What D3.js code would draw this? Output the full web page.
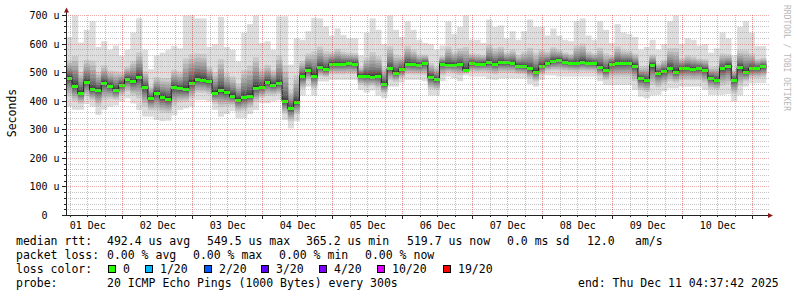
<!DOCTYPE html>
<html>
<head>
<meta charset="utf-8">
<script src="https://cdn.jsdelivr.net/npm/d3@7"></script>
<style>
	body { margin: 0; background: #fff; }
	svg { display: block; }
	text { font-family: "DejaVu Sans Mono", monospace; fill: #000; }
</style>
</head>
<body>
<svg id="chart" width="797" height="297"></svg>
<script>
// medians per 2 hour step (microseconds), Dec 01 04:37:42 -> Dec 11 04:37:42
var median = [
	483,455,430,468,442,440,465,455,440,458,
	478,470,485,450,410,430,415,408,450,445,
	442,465,478,475,470,430,440,432,420,406,
	415,420,448,450,467,458,463,400,375,398,
	488,510,490,520,512,531,531,531,533,531,
	490,490,486,490,460,515,500,512,531,529,
	527,534,485,477,531,527,528,530,510,533,
	530,532,536,530,536,536,534,524,522,515,
	504,524,534,541,545,539,535,533,538,535,
	534,520,508,531,534,534,535,525,480,475,
	527,500,505,517,503,515,517,514,516,510,
	482,475,515,525,475,519,503,515,516,522
];
// slowest ping of each step
var pingMax = [
	625,700,605,650,680,590,610,580,595,560,
	580,640,690,580,512,560,570,580,593,585,
	700,700,690,690,590,600,695,590,580,540,
	640,670,700,604,610,580,697,697,528,620,
	615,645,692,690,662,630,655,632,620,620,
	560,640,690,650,600,700,650,625,680,650,
	615,604,600,580,595,680,635,660,700,615,
	615,604,686,660,665,620,645,615,645,686,
	660,660,630,655,630,615,610,680,690,630,
	615,680,650,604,670,640,635,625,580,590,
	615,580,600,680,700,600,620,615,595,600,
	570,585,640,620,560,660,680,640,593,593
];
// fastest ping of each step
var pingMin = [
	381,370,370,390,381,352,370,381,385,399,
	410,392,369,346,346,334,330,332,350,369,
	375,381,404,404,400,370,346,355,365,340,
	340,355,369,393,393,400,404,334,305,330,
	420,451,420,469,469,475,475,475,475,475,
	440,430,438,420,410,451,451,465,475,475,
	475,470,420,420,470,486,480,470,490,486,
	486,486,478,475,480,480,480,480,480,460,
	451,475,490,490,486,486,486,486,486,486,
	486,470,457,457,457,457,457,440,416,410,
	420,422,435,445,445,451,451,451,451,440,
	422,422,422,425,399,420,451,463,463,463
];
var yTicks = [0, 100, 200, 300, 400, 500, 600, 700];
var lossLabels = ['0', '1/20', '2/20', '3/20', '4/20', '10/20', '19/20'];
var lossColors = ['#26ff00', '#00b8ff', '#0059ff', '#5e00ff', '#7e00ff', '#dd00ff', '#ff0000'];

var STEP = 2 * 3600 * 1000;
var start = Date.UTC(2025, 11, 1, 4, 37, 42);
var end = start + median.length * STEP;
var PINGS = 20;

var svg = d3.select('#chart');

var x = d3.scaleUtc().domain([start, end]).range([66.2, 766.2]);
var y = d3.scaleLinear().domain([0, 700]).range([215.5, 15.5]);

function px(v) { return Math.floor(v) + 0.5; }

svg.append('defs').append('clipPath').attr('id', 'plot')
	.append('rect').attr('x', 66.5).attr('y', 15).attr('width', 700).attr('height', 200);

// rebuild the sorted pings of a step from its min, median and max
function pings(m, lo, hi) {
	var p = new Array(PINGS);
	var half = PINGS / 2;
	for (var j = 0; j < half; j++) {
		var f = Math.pow((j + 1) / (half - 1), 1.6);
		p[half + j] = j == half - 1 ? hi : m + (hi - m) * 0.42 * f;
		p[half - 1 - j] = j == half - 1 ? lo : m - (m - lo) * 0.65 * f;
	}
	return p;
}

var steps = median.map(function(m, i) {
	return {
		t0: start + i * STEP,
		t1: start + (i + 1) * STEP,
		med: m,
		p: pings(m, pingMin[i], pingMax[i])
	};
});

var plot = svg.append('g').attr('clip-path', 'url(#plot)');

// smoke: outer band lightest, inner darkest
for (var b = 0; b < PINGS / 2; b++) {
	var grey = Math.floor(190 / 10 * (9 - b)) + 50;
	plot.append('g')
		.attr('fill', d3.rgb(grey, grey, grey))
		.selectAll('rect')
		.data(steps)
		.enter()
		.append('rect')
		.attr('x', function(d) { return x(d.t0); })
		.attr('width', function(d) { return x(d.t1) - x(d.t0) + 0.3; })
		.attr('y', function(d) { return y(d.p[PINGS - 1 - b]); })
		.attr('height', function(d) { return y(d.p[b]) - y(d.p[PINGS - 1 - b]); });
}

// median line and loss coloured marks
var stepPts = steps.map(function(d) { return [x(d.t0), Math.round(y(d.med)) + 0.5]; });
stepPts.push([x(end), stepPts[stepPts.length - 1][1]]);
plot.append('path')
	.attr('d', d3.line().curve(d3.curveStepAfter)(stepPts))
	.attr('fill', 'none')
	.attr('stroke', '#202020')
	.attr('stroke-width', 1);
plot.append('g')
	.attr('fill', lossColors[0])
	.attr('shape-rendering', 'crispEdges')
	.selectAll('rect')
	.data(steps)
	.enter()
	.append('rect')
	.attr('x', function(d) { return Math.round(x(d.t0)); })
	.attr('width', function(d) { return Math.round(x(d.t1)) - Math.round(x(d.t0)); })
	.attr('y', function(d) { return Math.round(y(d.med)) - 1; })
	.attr('height', 3);

// grid, drawn over the smoke like rrdtool does
var grid = svg.append('g');
var dayStart = d3.utcDay.floor(new Date(start));
var hours = d3.utcHour.every(6).range(new Date(start), new Date(end));
var days = d3.utcDay.range(dayStart, new Date(end));
function vline(list, colour) {
	list.forEach(function(t) {
		grid.append('path')
			.attr('d', 'M' + px(x(t)) + ',15V215')
			.attr('stroke', colour)
			.attr('stroke-dasharray', '1,1');
	});
}
function hline(list, colour) {
	list.forEach(function(v) {
		grid.append('path')
			.attr('d', 'M66,' + px(y(v)) + 'H769')
			.attr('stroke', colour)
			.attr('stroke-dasharray', '1,1');
	});
}
vline(hours.filter(function(t) { return t.getUTCHours() != 0; }), 'rgba(140,140,140,0.55)');
hline(d3.range(20, 701, 20).filter(function(v) { return v % 100 != 0; }), 'rgba(140,140,140,0.5)');
vline(days.filter(function(t) { return +t > start; }), 'rgba(225,60,60,0.6)');
hline(yTicks.slice(1), 'rgba(225,60,60,0.42)');

// axes
var axis = svg.append('g').attr('shape-rendering', 'crispEdges').attr('stroke', '#222');
axis.append('line').attr('x1', 66.5).attr('x2', 66.5).attr('y1', 11).attr('y2', 216);
axis.append('line').attr('x1', 62).attr('x2', 769).attr('y1', 215.5).attr('y2', 215.5);
axis.selectAll('.xt')
	.data(hours)
	.enter().append('line')
	.attr('x1', function(d) { return px(x(d)); })
	.attr('x2', function(d) { return px(x(d)); })
	.attr('y1', 215)
	.attr('y2', function(d) { return d.getUTCHours() == 0 ? 219 : 217; });
axis.selectAll('.yt')
	.data(d3.range(0, 701, 20))
	.enter().append('line')
	.attr('y1', function(d) { return px(y(d)); })
	.attr('y2', function(d) { return px(y(d)); })
	.attr('x1', function(d) { return d % 100 == 0 ? 62 : 64; })
	.attr('x2', 66);
svg.append('path').attr('d', 'M64,12.5L66.5,7.5L69,12.5Z').attr('fill', '#8b1a1a');
svg.append('path').attr('d', 'M768,213L773,215.5L768,218Z').attr('fill', '#8b1a1a');

svg.append('g').selectAll('text')
	.data(yTicks)
	.enter().append('text')
	.attr('x', function(d) { return d == 0 ? 47.5 : 59.5; })
	.attr('y', function(d) { return y(d) + 3.5; })
	.attr('text-anchor', 'end')
	.style('font-size', '10px')
	.text(function(d) { return d == 0 ? '0' : d + ' u'; });

var fmt = d3.utcFormat('%d %b');
svg.append('g').selectAll('text')
	.data(days.filter(function(t) { return +d3.utcHour.offset(t, 12) < end; }))
	.enter().append('text')
	.attr('x', function(d) { return x(d3.utcHour.offset(d, 12)); })
	.attr('y', 228.5)
	.attr('text-anchor', 'middle')
	.style('font-size', '10px')
	.text(fmt);

svg.append('text')
	.attr('transform', 'translate(15.5,113) rotate(-90)')
	.attr('text-anchor', 'middle')
	.style('font-size', '11.5px')
	.text('Seconds');
svg.append('text')
	.attr('transform', 'translate(784,5) rotate(90)')
	.style('font-size', '8px')
	.style('fill', '#b8b8b8')
	.text('RRDTOOL / TOBI OETIKER');

// legend
var legendRows = [
	[[16, 'median rtt:'], [107, '492.4 us avg'], [207, '549.5 us max'], [306, '365.2 us min'],
	 [407, '519.7 us now'], [507, '0.0 ms sd'], [587, '12.0'], [635, 'am/s']],
	[[16, 'packet loss:'], [107, '0.00 % avg'], [193, '0.00 % max'], [279, '0.00 % min'], [365, '0.00 % now']],
	[[16, 'loss color:']],
	[[16, 'probe:'], [107, '20 ICMP Echo Pings (1000 Bytes) every 300s'], [578, 'end: Thu Dec 11 04:37:42 2025']]
];
legendRows.forEach(function(row, r) {
	svg.append('g').selectAll('text')
		.data(row)
		.enter().append('text')
		.attr('x', function(d) { return d[0]; })
		.attr('y', 245 + r * 14)
		.style('font-size', '11.5px')
		.text(function(d) { return d[1]; });
});
var boxX = [108, 145, 204, 261, 319, 377, 443];
var loss = svg.append('g').selectAll('g')
	.data(lossLabels)
	.enter().append('g')
	.attr('transform', function(d, i) { return 'translate(' + boxX[i] + ',0)'; });
loss.append('rect')
	.attr('x', 0.5).attr('y', 265.5).attr('width', 7).attr('height', 7)
	.attr('fill', function(d, i) { return lossColors[i]; })
	.attr('stroke', '#000').attr('shape-rendering', 'crispEdges');
loss.append('text')
	.attr('x', 15).attr('y', 273)
	.style('font-size', '11.5px')
	.text(function(d) { return d; });
</script>
</body>
</html>
